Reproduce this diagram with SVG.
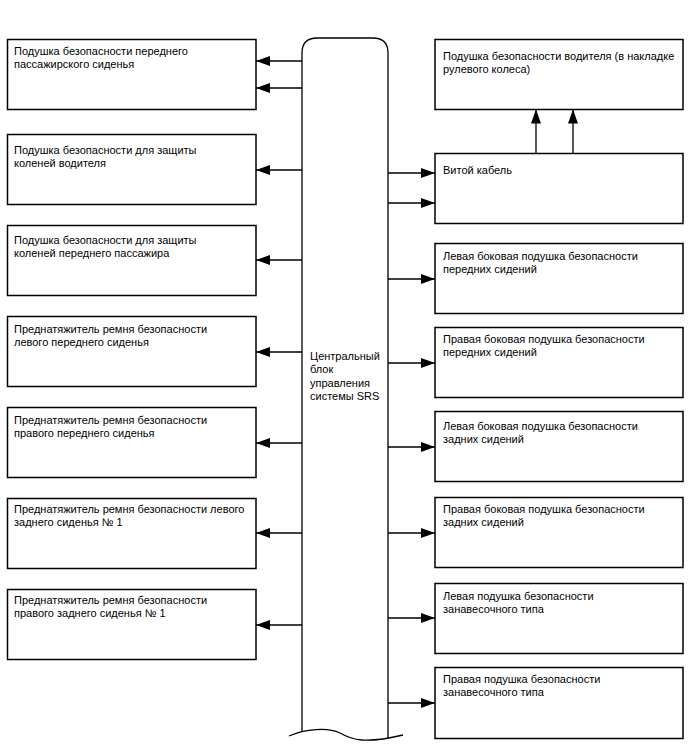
<svg xmlns="http://www.w3.org/2000/svg" width="688" height="755" viewBox="0 0 688 755">
<style>
.box{fill:#fff;stroke:#000;stroke-width:1.5}
.t{font-family:"Liberation Sans",Arial,sans-serif;font-size:11px;fill:#000}
.c{fill:none;stroke:#000;stroke-width:1.3}
</style>
<defs>
<marker id="ah" markerUnits="userSpaceOnUse" markerWidth="14" markerHeight="10" refX="14" refY="5" orient="auto">
<path d="M0,0 L14,5 L0,10 Z" fill="#000"/>
</marker>
</defs>
<rect width="688" height="755" fill="#fff"/>
<g id="ecu">
<path class="c" d="M302,732 L302,53 Q302,38 317,38 L373,38 Q388,38 388,53 L388,738" stroke-width="1.5"/>
<path class="c" d="M289,736 C305,729 328,727 340,733 C352,740 365,744 403,735" stroke-width="1.5"/>
<text class="t" x="310" y="359.5">Центральный</text>
<text class="t" x="310" y="373">блок</text>
<text class="t" x="310" y="386.5">управления</text>
<text class="t" x="310" y="400">системы SRS</text>
</g>
<g id="n_l1"><rect class="box" x="7.5" y="39.5" width="248.5" height="70"/>
<text class="t" x="14" y="54.5">Подушка безопасности переднего</text><text class="t" x="14" y="67.5">пассажирского сиденья</text></g>
<g id="n_l2"><rect class="box" x="7.5" y="134.5" width="248.5" height="70"/>
<text class="t" x="14" y="153.5">Подушка безопасности для защиты</text><text class="t" x="14" y="166.5">коленей водителя</text></g>
<g id="n_l3"><rect class="box" x="7.5" y="225.5" width="248.5" height="70"/>
<text class="t" x="14" y="243.5">Подушка безопасности для защиты</text><text class="t" x="14" y="256.5">коленей переднего пассажира</text></g>
<g id="n_l4"><rect class="box" x="7.5" y="316.5" width="248.5" height="70"/>
<text class="t" x="14" y="333">Преднатяжитель ремня безопасности</text><text class="t" x="14" y="346">левого переднего сиденья</text></g>
<g id="n_l5"><rect class="box" x="7.5" y="407.5" width="248.5" height="70"/>
<text class="t" x="14" y="423.5">Преднатяжитель ремня безопасности</text><text class="t" x="14" y="436.5">правого переднего сиденья</text></g>
<g id="n_l6"><rect class="box" x="7.5" y="498.5" width="248.5" height="70"/>
<text class="t" x="14" y="513">Преднатяжитель ремня безопасности левого</text><text class="t" x="14" y="526">заднего сиденья № 1</text></g>
<g id="n_l7"><rect class="box" x="7.5" y="589.5" width="248.5" height="70"/>
<text class="t" x="14" y="603.5">Преднатяжитель ремня безопасности</text><text class="t" x="14" y="616.5">правого заднего сиденья № 1</text></g>
<g id="n_r0"><rect class="box" x="435" y="39.5" width="248" height="70"/>
<text class="t" x="443" y="59.5">Подушка безопасности водителя (в накладке</text><text class="t" x="443" y="72.5">рулевого колеса)</text></g>
<g id="n_r1"><rect class="box" x="435" y="153.5" width="248" height="70"/>
<text class="t" x="443" y="173.5">Витой кабель</text></g>
<g id="n_r2"><rect class="box" x="435" y="243.5" width="248" height="70"/>
<text class="t" x="443" y="260">Левая боковая подушка безопасности</text><text class="t" x="443" y="273">передних сидений</text></g>
<g id="n_r3"><rect class="box" x="435" y="327.5" width="248" height="70"/>
<text class="t" x="443" y="343">Правая боковая подушка безопасности</text><text class="t" x="443" y="356">передних сидений</text></g>
<g id="n_r4"><rect class="box" x="435" y="411.5" width="248" height="70"/>
<text class="t" x="443" y="430">Левая боковая подушка безопасности</text><text class="t" x="443" y="443">задних сидений</text></g>
<g id="n_r5"><rect class="box" x="435" y="497.5" width="248" height="70"/>
<text class="t" x="443" y="513">Правая боковая подушка безопасности</text><text class="t" x="443" y="526">задних сидений</text></g>
<g id="n_r6"><rect class="box" x="435" y="583.5" width="248" height="70"/>
<text class="t" x="443" y="599.5">Левая подушка безопасности</text><text class="t" x="443" y="612.5">занавесочного типа</text></g>
<g id="n_r7"><rect class="box" x="435" y="667.5" width="248" height="71"/>
<text class="t" x="443" y="683">Правая подушка безопасности</text><text class="t" x="443" y="696">занавесочного типа</text></g>
<g id="connectors">
<line class="c" x1="302" y1="61" x2="256" y2="61" marker-end="url(#ah)"/>
<line class="c" x1="302" y1="88" x2="256" y2="88" marker-end="url(#ah)"/>
<line class="c" x1="302" y1="170" x2="256" y2="170" marker-end="url(#ah)"/>
<line class="c" x1="302" y1="260" x2="256" y2="260" marker-end="url(#ah)"/>
<line class="c" x1="302" y1="352" x2="256" y2="352" marker-end="url(#ah)"/>
<line class="c" x1="302" y1="443" x2="256" y2="443" marker-end="url(#ah)"/>
<line class="c" x1="302" y1="533" x2="256" y2="533" marker-end="url(#ah)"/>
<line class="c" x1="302" y1="625" x2="256" y2="625" marker-end="url(#ah)"/>
<line class="c" x1="388" y1="173" x2="435" y2="173" marker-end="url(#ah)"/>
<line class="c" x1="388" y1="203" x2="435" y2="203" marker-end="url(#ah)"/>
<line class="c" x1="388" y1="279" x2="435" y2="279" marker-end="url(#ah)"/>
<line class="c" x1="388" y1="363" x2="435" y2="363" marker-end="url(#ah)"/>
<line class="c" x1="388" y1="447" x2="435" y2="447" marker-end="url(#ah)"/>
<line class="c" x1="388" y1="533" x2="435" y2="533" marker-end="url(#ah)"/>
<line class="c" x1="388" y1="618" x2="435" y2="618" marker-end="url(#ah)"/>
<line class="c" x1="388" y1="703" x2="435" y2="703" marker-end="url(#ah)"/>
<line class="c" x1="536" y1="153.5" x2="536" y2="109.5" marker-end="url(#ah)"/>
<line class="c" x1="573" y1="153.5" x2="573" y2="109.5" marker-end="url(#ah)"/>
</g>
</svg>
